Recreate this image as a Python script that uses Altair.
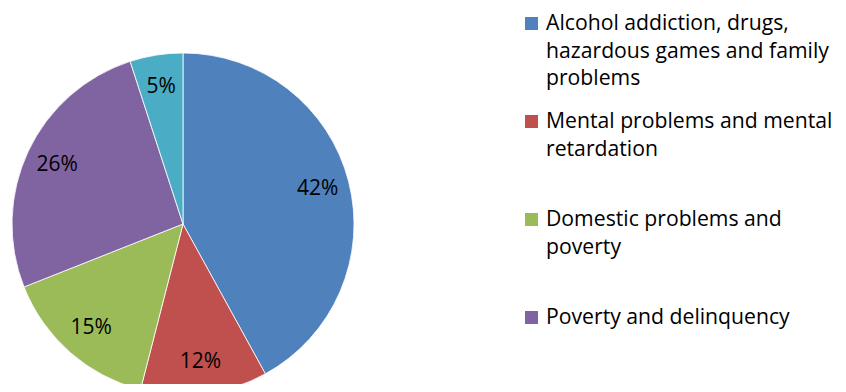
import altair as alt
import pandas as pd

categories = [
    "Alcohol addiction, drugs, hazardous games and family problems",
    "Mental problems and mental retardation",
    "Domestic problems and poverty",
    "Poverty and delinquency",
    "Other",
]
values = [42, 12, 15, 26, 5]
colors = ["#4F81BD", "#C0504D", "#9BBB59", "#8064A2", "#4BACC6"]
legend_lines = [
    "Alcohol addiction, drugs,\nhazardous games and family\nproblems",
    "Mental problems and mental\nretardation",
    "Domestic problems and\npoverty",
    "Poverty and delinquency",
]

FONT = "Open Sans"

pie_df = pd.DataFrame({
    "category": categories,
    "value": values,
    "order": list(range(len(categories))),
    "label": [f"{v}%" for v in values],
})
leg_df = pd.DataFrame({
    "category": categories[: len(legend_lines)],
    "text": legend_lines,
    "idx": list(range(len(legend_lines))),
})

color_scale = alt.Scale(domain=categories, range=colors)
cx, cy, R = 175, 216, 171

base = alt.Chart(pie_df).encode(
    theta=alt.Theta("value:Q", stack=True),
    order=alt.Order("order:Q"),
    x=alt.value(cx),
    y=alt.value(cy),
)
arcs = base.mark_arc(radius=R, stroke="white", strokeWidth=0.8).encode(
    color=alt.Color("category:N", scale=color_scale, legend=None)
)
labels = base.mark_text(
    radius=139, font=FONT, fontSize=21, color="black", baseline="middle", align="center"
).encode(text="label:N")

yscale = alt.Scale(domain=[0, 4], range=[0, 392], nice=False, zero=False)
leg_base = alt.Chart(leg_df).encode(
    y=alt.Y("idx:Q", scale=yscale, axis=None)
)
squares = leg_base.mark_square(size=169, opacity=1, yOffset=15.5).encode(
    x=alt.value(523.5),
    color=alt.Color("category:N", scale=color_scale, legend=None),
)
texts = leg_base.mark_text(
    font=FONT, fontSize=21.2, color="black", align="left", baseline="top",
    lineBreak="\n", lineHeight=27.5, yOffset=5,
).encode(x=alt.value(538), text="text:N")

chart = alt.layer(arcs, labels, squares, texts).properties(
    width=830, height=376, padding=0,
    autosize=alt.AutoSizeParams(type="none"),
).configure_view(stroke=None)

chart.save("out.html", embed_options={"renderer": "svg", "actions": False})
